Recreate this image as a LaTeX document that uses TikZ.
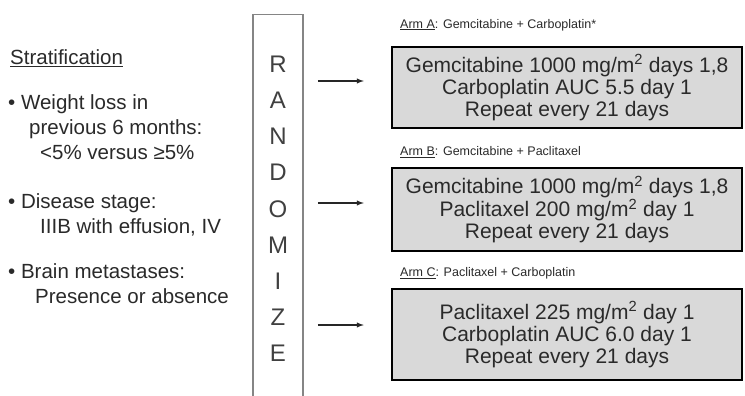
\documentclass[tikz,border=0pt]{standalone}
\usepackage{fontspec}
\setmainfont{Liberation Sans}
\usetikzlibrary{positioning}
\definecolor{boxfill}{HTML}{D9D9D9}
\definecolor{randgray}{HTML}{858585}
\definecolor{txtgray}{HTML}{2A2A2A}

\begin{document}
\begin{tikzpicture}[x=1pt,y=-1pt,
    lefttext/.style={anchor=west,inner sep=0pt,align=left,text=txtgray,
      font=\fontsize{20.5}{25}\selectfont},
    armlabel/.style={anchor=west,inner sep=0pt,text=txtgray,
      font=\fontsize{12.5}{15}\selectfont},
    armbox/.style={draw=black,line width=2.5pt,fill=boxfill,minimum width=350pt,
      align=center,text=txtgray,font=\fontsize{21}{22}\selectfont},
    randbox/.style={draw=randgray,line width=1.5pt,minimum width=50pt,
      minimum height=388pt,align=center,text=darkgray,
      font=\fontsize{24}{36.2}\selectfont},
    randarrow/.style={-latex,line width=1.4pt,black!85}]
    \useasboundingbox[fill=white] (0,0) rectangle (745,396);

    % stratification factors
    \node[lefttext] (strat) at (10,58) {\underline{Stratification}};
    \node[lefttext] (weight) at (8,127) {• Weight loss in\\
      \hspace*{21pt}previous 6 months:\\
      \hspace*{32pt}<5\% versus ≥5\%};
    \node[lefttext] (stage) at (8,215) {• Disease stage:\\
      \hspace*{32pt}IIIB with effusion, IV};
    \node[lefttext] (brain) at (8,283.5) {• Brain metastases:\\
      \hspace*{27pt}Presence or absence};

    % randomize column
    \node[randbox,anchor=north] (rand) at (278,14) {R\\A\\N\\D\\O\\M\\I\\Z\\E};

    % treatment arms
    \node[armbox,minimum height=81pt] (boxA) at (567,87.5)
      {Gemcitabine 1000 mg/m\textsuperscript{2} days 1,8\\
       Carboplatin AUC 5.5 day 1\\Repeat every 21 days};
    \node[armbox,minimum height=83pt] (boxB) at (567,209.5)
      {Gemcitabine 1000 mg/m\textsuperscript{2} days 1,8\\
       Paclitaxel 200 mg/m\textsuperscript{2} day 1\\Repeat every 21 days};
    \node[armbox,minimum height=91pt] (boxC) at (567,334.5)
      {Paclitaxel 225 mg/m\textsuperscript{2} day 1\\
       Carboplatin AUC 6.0 day 1\\Repeat every 21 days};

    \node[armlabel] (armA) at (400,25)
      {\underline{Arm A}: Gemcitabine + Carboplatin*};
    \node[armlabel] (armB) at (400,152)
      {\underline{Arm B}: Gemcitabine + Paclitaxel};
    \node[armlabel] (armC) at (400,273)
      {\underline{Arm C}: Paclitaxel + Carboplatin};

    % arrows
    \draw[randarrow] ([xshift=14pt,yshift=6.5pt]rand.east |- boxA.west)
      -- ([xshift=-27pt,yshift=6.5pt]boxA.west);
    \draw[randarrow] ([xshift=14pt,yshift=6.5pt]rand.east |- boxB.west)
      -- ([xshift=-27pt,yshift=6.5pt]boxB.west);
    \draw[randarrow] ([xshift=14pt,yshift=9.5pt]rand.east |- boxC.west)
      -- ([xshift=-27pt,yshift=9.5pt]boxC.west);
\end{tikzpicture}
\end{document}
